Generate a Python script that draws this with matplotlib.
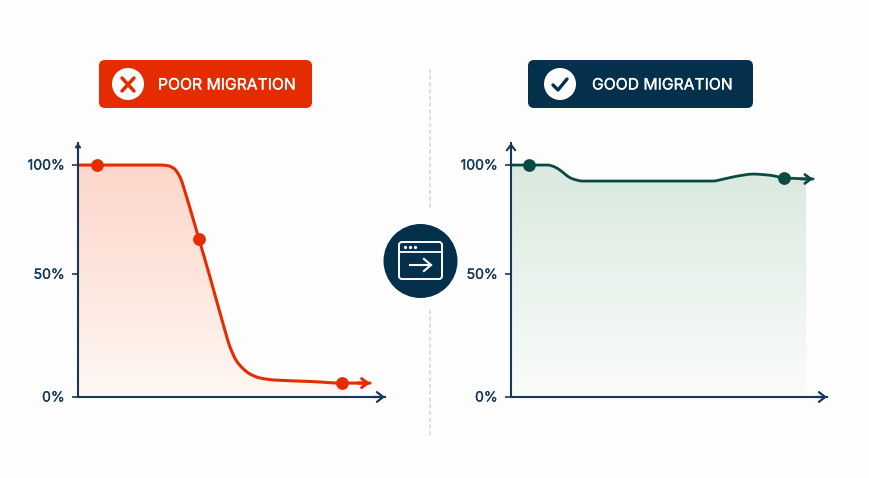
import numpy as np
import matplotlib
matplotlib.use("Agg")
import matplotlib.pyplot as plt
import matplotlib.patheffects as pe
from matplotlib.patches import FancyBboxPatch, Circle, Polygon, PathPatch
from matplotlib.path import Path
from matplotlib.transforms import ScaledTranslation

plt.rcParams['font.family'] = ['Inter', 'DejaVu Sans']

W, H = 870, 478

# curve values, x = distance along the axis, y = percent
poor_x = [0, 19, 52, 82, 90, 96, 102, 108, 114, 121, 132, 144, 152, 158, 164, 172, 182, 197, 232, 264, 292]
poor_y = [100, 100, 100, 100, 99.7, 98.5, 94.8, 87.1, 78.4, 68.1, 51.7, 33.2, 21.6, 15.9, 12.7, 9.9, 8.2, 7.3,
          6.7, 6.0, 6.0]
good_x = [0, 18, 37, 44, 49, 54, 58, 62, 67, 71, 139, 202, 212, 226, 242, 259, 273, 302]
good_y = [100, 100, 100, 99.1, 97.8, 96.1, 94.8, 94.0, 93.4, 93.1, 93.1, 93.1, 93.9, 95.2, 96.1, 95.6, 94.5, 94.0]

poor_dots_x = [19, 121, 264]
poor_dots_y = [100, 68.1, 6.0]
good_dots_x = [18, 273]
good_dots_y = [100, 94.5]

tick_pos = [0, 52.9, 100]
tick_labels = ["0%", "50%", "100%"]

NAVY = "#17385a"
DARK = "#04304c"
RED = "#e42c00"
GREEN = "#0b4a42"
BG = "#fdfdfd"


def gradient(top, bottom):
    t = np.linspace(0, 1, 256)[:, None, None]
    return np.array(top)[None, None, :] * (1 - t) + np.array(bottom)[None, None, :] * t


def smooth_path(xs, ys):
    # bezier segments through the read points, so the line has no kinks
    x = np.array(xs, float)
    y = np.array(ys, float)
    sec = np.diff(y) / np.diff(x)
    m = np.zeros(len(x))
    for i in range(1, len(x) - 1):
        if sec[i - 1] * sec[i] > 0:
            m[i] = 2 * sec[i - 1] * sec[i] / (sec[i - 1] + sec[i])
    verts = [(x[0], y[0])]
    codes = [Path.MOVETO]
    for i in range(len(x) - 1):
        d = (x[i + 1] - x[i]) / 3
        verts += [(x[i] + d, y[i] + d * m[i]), (x[i + 1] - d, y[i + 1] - d * m[i + 1]), (x[i + 1], y[i + 1])]
        codes += [Path.CURVE4] * 3
    return Path(verts, codes)


def chart(rect, xs, ys, dots_x, dots_y, color, lw, top, bottom, fill_end, head):
    ax = fig.add_axes(rect)
    ax.patch.set_visible(False)
    xmax = rect[2] * W
    ax.set_xlim(0, xmax)
    ax.set_ylim(0, 109.5)

    # gradient under the curve
    img = ax.imshow(gradient(top, bottom), extent=[0, fill_end, 0, 100], aspect="auto", zorder=1)
    fx = [x for x in xs if x < fill_end] + [fill_end]
    fy = list(np.interp(fx, xs, ys))
    clip = Polygon(list(zip(fx, fy)) + [(fill_end, 0), (0, 0)], transform=ax.transData)
    img.set_clip_path(clip)
    ax.set_xlim(0, xmax)
    ax.set_ylim(0, 109.5)

    ax.add_patch(PathPatch(smooth_path(xs, ys), fc="none", ec=color, lw=lw, zorder=4, capstyle="round",
                           joinstyle="round", clip_on=False))
    ax.plot(dots_x, dots_y, "o", color=color, ms=9.2, mew=0, zorder=5, clip_on=False)
    ax.annotate("", xy=(xs[-1], ys[-1]), xytext=(xs[-1] - 12, ys[-1]),
                arrowprops=dict(arrowstyle="->,head_length=0.42,head_width=0.32", color=color, lw=lw,
                                shrinkA=0, shrinkB=0), zorder=5)

    for s in ["top", "right"]:
        ax.spines[s].set_visible(False)
    for s in ["left", "bottom"]:
        ax.spines[s].set_color(NAVY)
        ax.spines[s].set_linewidth(1.5)
        ax.spines[s].set_zorder(6)
    ax.set_xticks([])
    ax.set_yticks(tick_pos)
    ax.set_yticklabels(tick_labels, fontsize=10.1, color=NAVY)
    ax.tick_params(axis="y", length=4, width=1.2, color=NAVY, pad=5.5)
    up = ScaledTranslation(0, 1 / 100, fig.dpi_scale_trans)
    for lab in ax.get_yticklabels():
        lab.set_path_effects([pe.withStroke(linewidth=0.2, foreground=NAVY)])
        lab.set_transform(lab.get_transform() + up)

    # axis arrows
    ax.annotate("", xy=(xmax, 0), xytext=(xmax - 12, 0),
                arrowprops=dict(arrowstyle="->,head_length=0.45,head_width=0.35", color=NAVY, lw=1.6,
                                shrinkA=0, shrinkB=0), zorder=6)
    ax.annotate("", xy=(0, 109.5), xytext=(0, 104),
                arrowprops=dict(arrowstyle="->,head_length=%s,head_width=%s" % (head, head * 0.75),
                                color=NAVY, lw=1.5, shrinkA=0, shrinkB=0), zorder=6)
    return ax


def badge(x0, x1, color, label, tx, cx):
    bg.add_patch(FancyBboxPatch((x0 + 6, 66), x1 - x0 - 12, 36, boxstyle="round,pad=6,rounding_size=6",
                                fc=color, ec="none"))
    bg.add_patch(Circle((cx, 84), 16, fc="white", ec="none"))
    t = bg.text(tx, 85, label, color="white", fontsize=11.3, ha="left", va="center")
    t.set_path_effects([pe.withStroke(linewidth=0.2, foreground="white")])


fig = plt.figure(figsize=(W / 100, H / 100), dpi=100, facecolor=BG)

# pixel space layer for the badges, divider and centre icon
bg = fig.add_axes([0, 0, 1, 1])
bg.set_xlim(0, W)
bg.set_ylim(H, 0)
bg.axis("off")

badge(99, 312, RED, "POOR MIGRATION", 158, 128)
badge(528, 753, DARK, "GOOD MIGRATION", 592, 560)
bg.plot([122, 134], [78, 91], color=RED, lw=2.5, solid_capstyle="round")
bg.plot([122, 134], [91, 78], color=RED, lw=2.5, solid_capstyle="round")
bg.plot([553, 558, 567], [85, 90, 79], color=DARK, lw=2.4, solid_capstyle="round", solid_joinstyle="round")

for y0, y1 in [(69, 210), (310, 436)]:
    bg.plot([430, 430], [y0, y1], color="#d3d6d9", lw=1.1, dashes=(2.7, 1.7))

bg.add_patch(Circle((420.5, 261), 37, fc=DARK, ec="none", zorder=3))
bg.add_patch(FancyBboxPatch((402, 245), 37, 31, boxstyle="round,pad=3,rounding_size=3", fc="none", ec="white",
                            lw=1.4, zorder=4))
bg.plot([399, 442], [252, 252], color="white", lw=1.3, zorder=4)
bg.plot([405, 410, 415], [247, 247, 247], "o", color="white", ms=2.3, mew=0, zorder=4)
bg.plot([410, 431], [265, 265], color="white", lw=1.5, zorder=4)
bg.plot([424, 431, 424], [259, 265, 271], color="white", lw=1.5, zorder=4, solid_joinstyle="miter")

chart([78 / W, 1 - 397 / H, 307 / W, 254 / H], poor_x, poor_y, poor_dots_x, poor_dots_y, RED, 2.2,
      (0.99, 0.84, 0.79), (1.0, 0.97, 0.955), 268, 0.2)
chart([511 / W, 1 - 397 / H, 316 / W, 254 / H], good_x, good_y, good_dots_x, good_dots_y, GREEN, 2.0,
      (0.85, 0.915, 0.875), (0.985, 0.988, 0.983), 295, 0.4)

fig.savefig("out.png", dpi=100, facecolor=BG)
